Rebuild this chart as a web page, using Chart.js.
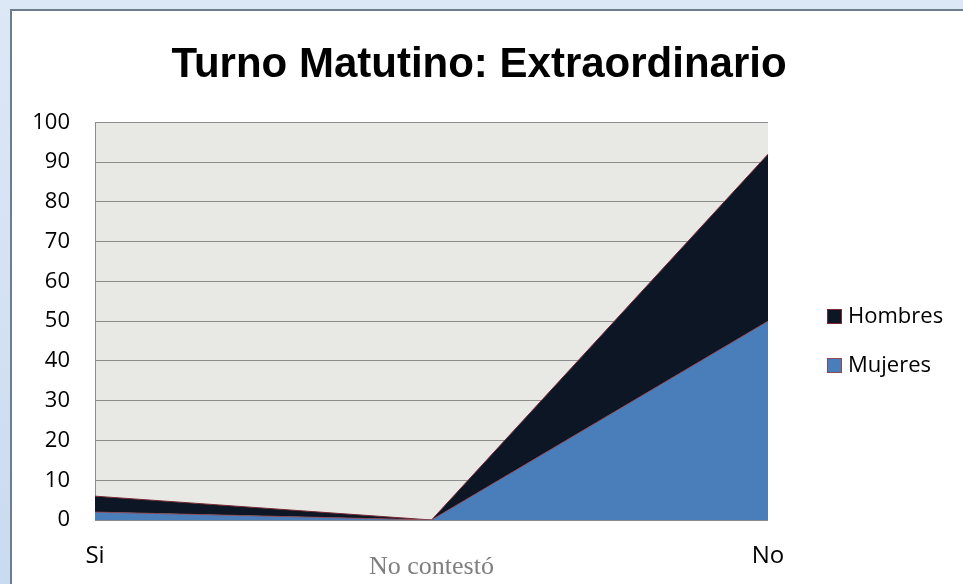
<!DOCTYPE html>
<html>
<head>
<meta charset="utf-8">
<script src="https://cdn.jsdelivr.net/npm/chart.js@4"></script>
<style>
html, body { margin: 0; padding: 0; width: 963px; height: 584px; overflow: hidden; }
body { background: linear-gradient(#dde8f6, #c9dbf1); }
#frame {
    position: absolute; left: 10px; top: 9px; width: 951px; height: 573px;
    background: #fff; border-left: 2px solid #6e7d8e; border-top: 2px solid #6e7d8e;
}
canvas { display: block; }
</style>
</head>
<body>
<div id="frame"><canvas id="chart" width="951" height="573"></canvas></div>
<script>
// values
const categories = ['Si', 'No contestó', 'No'];
const mujeres = [2, 0, 50];
const hombres = [4, 0, 42];
const yTicks = [0, 10, 20, 30, 40, 50, 60, 70, 80, 90, 100];

const plotBackground = {
    id: 'plotBackground',
    beforeDraw(chart) {
        const { ctx, chartArea: a } = chart;
        ctx.save();
        ctx.fillStyle = '#e8e8e5';
        ctx.fillRect(a.left, a.top, a.right - a.left, a.bottom - a.top);
        ctx.restore();
    }
};

// legend on the right, Hombres first like the original
const sideLegend = {
    id: 'sideLegend',
    afterDraw(chart) {
        const ctx = chart.ctx;
        const items = chart.data.datasets.slice().reverse();
        ctx.save();
        ctx.font = '22px "Open Sans"';
        ctx.textBaseline = 'middle';
        items.forEach((ds, i) => {
            const top = 298 + i * 49;
            ctx.fillStyle = ds.backgroundColor;
            ctx.fillRect(815, top, 15, 15);
            ctx.strokeStyle = ds.borderColor;
            ctx.lineWidth = 1;
            ctx.strokeRect(815.5, top + 0.5, 14, 14);
            ctx.fillStyle = '#000';
            ctx.fillText(ds.label, 836, top + 8);
        });
        ctx.restore();
    }
};

const ctx = document.getElementById('chart').getContext('2d');
const chart = new Chart(ctx, {
    type: 'line',
    data: {
        labels: categories,
        datasets: [
            {
                label: 'Mujeres',
                data: mujeres,
                backgroundColor: '#4a7ebb',
                borderColor: '#8a4a55',
                borderWidth: 1,
                fill: 'origin',
                pointRadius: 0,
                tension: 0,
            },
            {
                label: 'Hombres',
                data: hombres,
                backgroundColor: '#0c1624',
                borderColor: '#7a2a33',
                borderWidth: 1,
                fill: '-1',
                pointRadius: 0,
                tension: 0,
            },
        ],
    },
    options: {
        responsive: false,
        animation: false,
        layout: { padding: { left: 0, right: 17, top: 0, bottom: 0 } },
        plugins: {
            legend: { display: false },
            tooltip: { enabled: false },
            title: {
                display: true,
                text: 'Turno Matutino: Extraordinario',
                color: '#000',
                font: { family: '"Liberation Sans", sans-serif', size: 42, weight: 'bold', lineHeight: 1.2 },
                padding: { top: 29, bottom: 32 },
            },
        },
        scales: {
            x: {
                offset: false,
                grid: { display: false },
                border: { display: false },
                ticks: {
                    padding: 14,
                    maxRotation: 0,
                    autoSkip: false,
                    color: (c) => c.index === 1 ? '#7f7f7f' : '#000',
                    font: (c) => c.index === 1
                        ? { family: '"Liberation Serif", serif', size: 26, lineHeight: 1.97 }
                        : { family: '"Open Sans", sans-serif', size: 24 },
                },
                afterFit(scale) { scale.height = 64; },
            },
            y: {
                stacked: true,
                min: 0,
                max: 100,
                afterBuildTicks(scale) { scale.ticks = yTicks.map(v => ({ value: v })); },
                grid: { color: '#8c8c8c', lineWidth: 1, drawTicks: false },
                border: { display: true, color: '#8c8c8c' },
                ticks: {
                    padding: 25,
                    color: '#000',
                    font: { family: '"Open Sans", sans-serif', size: 22 },
                },
                afterFit(scale) { scale.width = 83; },
            },
            // empty axis that keeps the legend column free
            side: {
                position: 'right',
                display: true,
                grid: { display: false },
                border: { display: false },
                ticks: { display: false },
                afterFit(scale) { scale.width = 178; },
            },
        },
    },
    plugins: [plotBackground, sideLegend],
});
</script>
</body>
</html>
